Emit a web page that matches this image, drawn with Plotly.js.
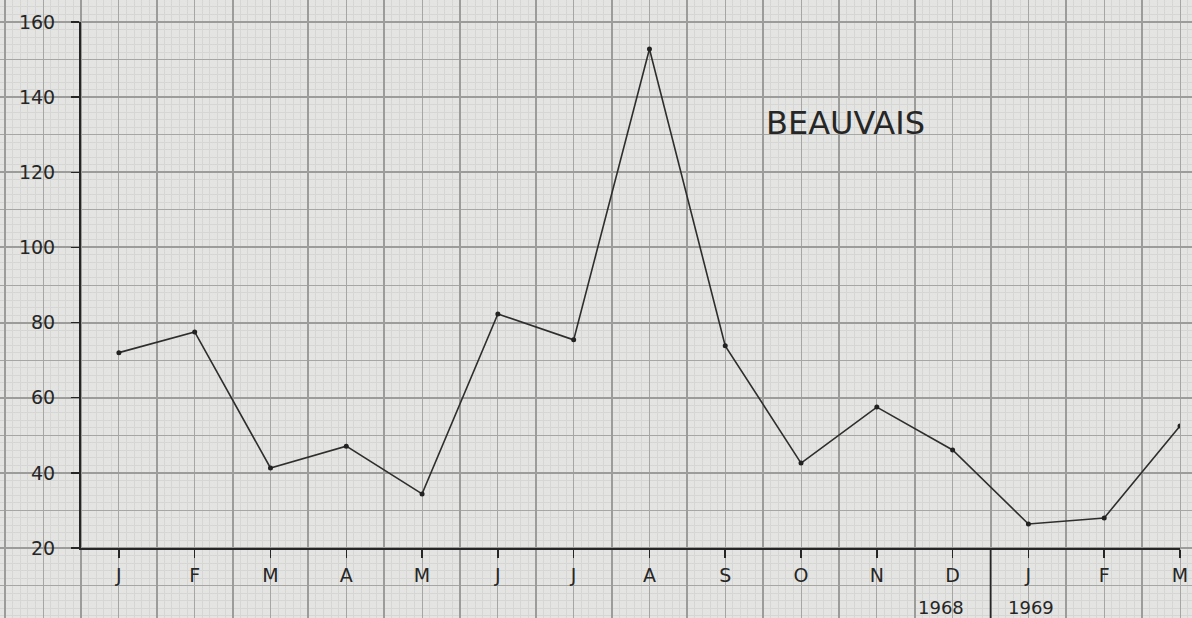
<!DOCTYPE html>
<html>
<head>
<meta charset="utf-8">
<script src="https://cdn.plot.ly/plotly-3.0.1.min.js"></script>
<style>html,body{margin:0;padding:0;background:#e4e4e2;}#chart{width:1192px;height:618px;}</style>
</head>
<body>
<div id="chart"></div>
<script>
// Data
const monthLabels = ["J","F","M","A","M","J","J","A","S","O","N","D","J","F","M"];
const monthIndex = [0,1,2,3,4,5,6,7,8,9,10,11,12,13,14];
const values = [72, 77.5, 41.3, 47.1, 34.4, 82.3, 75.4, 152.8, 73.8, 42.6, 57.5, 46.1, 26.4, 28.0, 52.5];
const yTicks = [20,40,60,80,100,120,140,160];
const yearLabels = ["1968","1969"];
const titleText = "BEAUVAIS";

// Layout geometry (pixels)
const W = 1192, H = 618;
const axL = 81, axR = 1180, axT = 22, axB = 548;
const xr = [-0.5, 14], yr = [20, 160];
const pxX = (axR - axL) / (xr[1] - xr[0]);
const pxY = (axB - axT) / (yr[1] - yr[0]);
const fullX = [xr[0] - axL / pxX, xr[1] + (W - axR) / pxX];
const fullY = [yr[0] - (H - axB) / pxY, yr[1] + axT / pxY];
const dX = [axL / W, axR / W];
const dY = [(H - axB) / H, (H - axT) / H];

const ink = "#262626";
const font = {family: "DejaVu Sans", size: 19, color: ink};

const traces = [
  {x: [], y: [], xaxis: "x", yaxis: "y", type: "scatter", hoverinfo: "skip", showlegend: false},
  {x: [], y: [], xaxis: "x2", yaxis: "y2", type: "scatter", hoverinfo: "skip", showlegend: false},
  {
    x: monthIndex, y: values, xaxis: "x3", yaxis: "y3",
    type: "scatter", mode: "lines+markers",
    line: {color: "#2e2e2e", width: 1.6},
    marker: {color: "#222222", size: 5},
    showlegend: false
  }
];

const bgAxis = {showticklabels: false, zeroline: false, showline: false, ticks: "", fixedrange: true};

const layout = {
  width: W, height: H,
  margin: {l: 0, r: 0, t: 0, b: 0},
  paper_bgcolor: "#e4e4e2",
  plot_bgcolor: "rgba(0,0,0,0)",
  showlegend: false,
  // fine graph-paper lines
  xaxis: Object.assign({}, bgAxis, {domain: [0, 1], range: fullX, anchor: "y", tick0: -0.5, dtick: 0.1, showgrid: true, gridcolor: "#d6d6d4", gridwidth: 1}),
  yaxis: Object.assign({}, bgAxis, {domain: [0, 1], range: fullY, anchor: "x", tick0: 0, dtick: 2, showgrid: true, gridcolor: "#d6d6d4", gridwidth: 1}),
  // medium and bold graph-paper lines
  xaxis2: Object.assign({}, bgAxis, {domain: [0, 1], range: fullX, anchor: "y2", tick0: -0.5, dtick: 1, showgrid: true, gridcolor: "#9c9c9a", gridwidth: 2,
    minor: {tick0: 0, dtick: 1, showgrid: true, gridcolor: "#a6a6a4", gridwidth: 1}}),
  yaxis2: Object.assign({}, bgAxis, {domain: [0, 1], range: fullY, anchor: "x2", tick0: 0, dtick: 20, showgrid: true, gridcolor: "#9c9c9a", gridwidth: 2,
    minor: {tick0: 10, dtick: 20, showgrid: true, gridcolor: "#a6a6a4", gridwidth: 1}}),
  // data axes
  xaxis3: {
    domain: dX, range: xr, anchor: "y3", showgrid: false, zeroline: false,
    showline: true, linecolor: ink, linewidth: 2,
    tickmode: "array", tickvals: monthIndex, ticktext: monthLabels,
    ticks: "outside", ticklen: 8, tickwidth: 1.5, tickcolor: ink,
    tickfont: font, ticklabelstandoff: 1, fixedrange: true
  },
  yaxis3: {
    domain: dY, range: yr, anchor: "x3", showgrid: false, zeroline: false,
    showline: true, linecolor: ink, linewidth: 2,
    tickmode: "array", tickvals: yTicks, ticktext: yTicks.map(String),
    ticks: "outside", ticklen: 8, tickwidth: 1.5, tickcolor: ink,
    tickfont: font, ticklabelstandoff: 12, fixedrange: true
  },
  shapes: [
    {type: "line", xref: "x3", yref: "paper", x0: 11.5, x1: 11.5, y0: 0, y1: dY[0], line: {color: ink, width: 1.6}}
  ],
  annotations: [
    {text: titleText, xref: "paper", yref: "paper", x: 846 / W, y: 1 - 123 / H, xanchor: "center", yanchor: "middle", showarrow: false,
      font: {family: "DejaVu Sans", size: 32, color: ink}},
    {text: yearLabels[0], xref: "paper", yref: "paper", x: 941 / W, y: 1 - 607 / H, xanchor: "center", yanchor: "middle", showarrow: false,
      font: {family: "DejaVu Sans", size: 18, color: ink}},
    {text: yearLabels[1], xref: "paper", yref: "paper", x: 1031 / W, y: 1 - 607 / H, xanchor: "center", yanchor: "middle", showarrow: false,
      font: {family: "DejaVu Sans", size: 18, color: ink}}
  ]
};

Plotly.newPlot("chart", traces, layout, {displayModeBar: false, staticPlot: true});
</script>
</body>
</html>
